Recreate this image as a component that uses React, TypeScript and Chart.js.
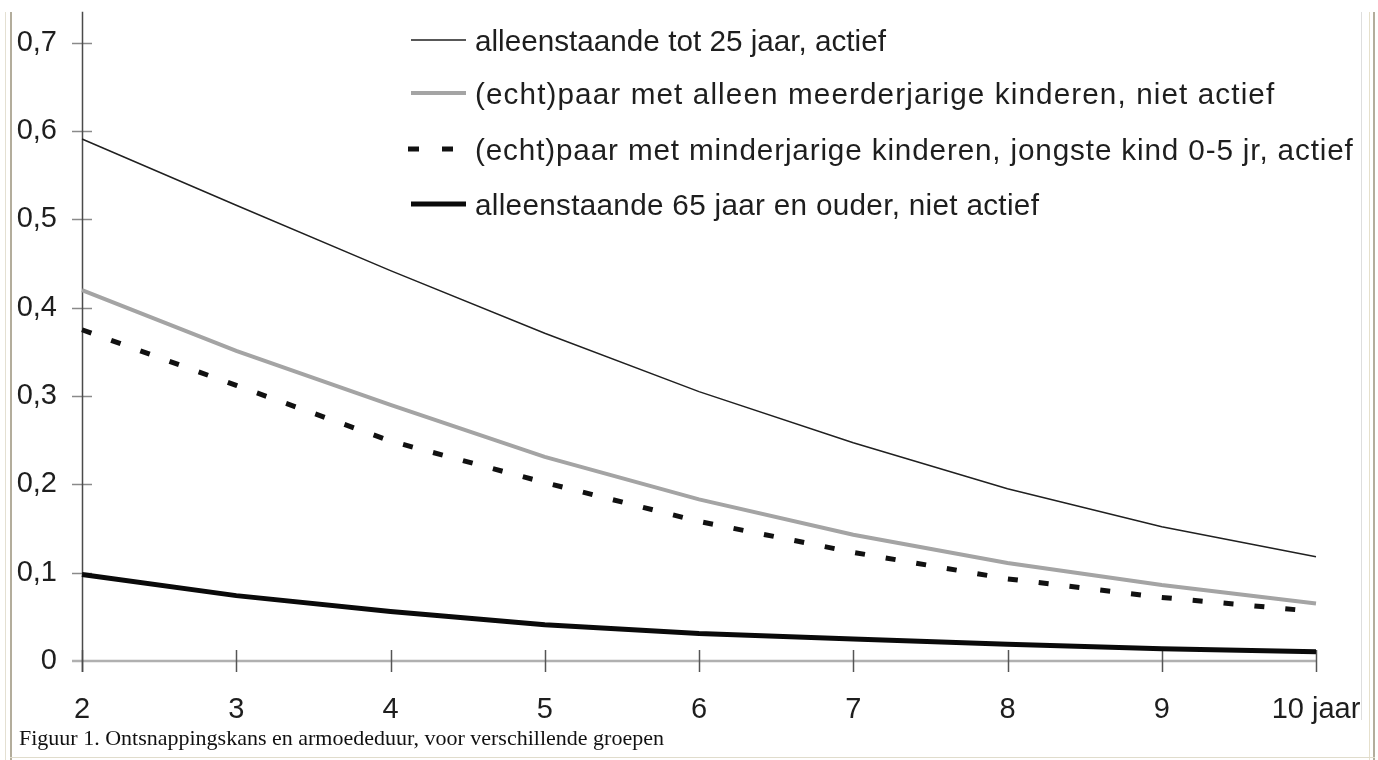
import React, { useEffect, useRef } from "react";
import { Chart, registerables } from "chart.js";

Chart.register(...registerables);

const years = ["2", "3", "4", "5", "6", "7", "8", "9", "10 jaar"];
const seriesNames = [
  "alleenstaande tot 25 jaar, actief",
  "(echt)paar met alleen meerderjarige kinderen, niet actief",
  "(echt)paar met minderjarige kinderen, jongste kind 0-5 jr, actief",
  "alleenstaande 65 jaar en ouder, niet actief",
];
const alleenstaandeTot25 = [0.591, 0.516, 0.442, 0.371, 0.305, 0.247, 0.195, 0.152, 0.118];
const paarMeerderjarig = [0.42, 0.351, 0.29, 0.231, 0.183, 0.143, 0.111, 0.086, 0.065];
const paarMinderjarig = [0.375, 0.312, 0.249, 0.202, 0.158, 0.123, 0.093, 0.072, 0.056];
const alleenstaande65 = [0.098, 0.074, 0.056, 0.041, 0.031, 0.025, 0.019, 0.014, 0.0105];
const yMax = 0.7;
const yStep = 0.1;
const caption = "Figuur 1. Ontsnappingskans en armoededuur, voor verschillende groepen";

const FONT = "'Liberation Sans', Arial, sans-serif";
const TEXT = "#1e1e1e";

const axesPlugin = {
  id: "customAxes",
  beforeDatasetsDraw(chart: any) {
    const { ctx, chartArea, scales } = chart;
    const x = scales.x;
    const y = scales.y;
    const x0 = x.getPixelForValue(0);
    const y0 = y.getPixelForValue(0);
    ctx.save();
    ctx.strokeStyle = "#b0b0b0";
    ctx.lineWidth = 2.5;
    ctx.beginPath();
    ctx.moveTo(x0 - 10, y0);
    ctx.lineTo(chartArea.right, y0);
    ctx.stroke();
    ctx.strokeStyle = "#8a8a8a";
    ctx.lineWidth = 1.5;
    y.ticks.forEach((t: any) => {
      const py = Math.round(y.getPixelForValue(t.value)) + 0.5;
      if (t.value === 0) return;
      ctx.beginPath();
      ctx.moveTo(x0 - 10, py);
      ctx.lineTo(x0 + 10, py);
      ctx.stroke();
    });
    ctx.strokeStyle = "#555";
    ctx.lineWidth = 1.5;
    years.forEach((_, i) => {
      const px = Math.round(x.getPixelForValue(i)) + 0.5;
      ctx.beginPath();
      ctx.moveTo(px, y0 - 11);
      ctx.lineTo(px, y0 + 11);
      ctx.stroke();
    });
    ctx.strokeStyle = "#4a4a4a";
    ctx.lineWidth = 1.5;
    ctx.beginPath();
    ctx.moveTo(Math.round(x0) + 0.5, chartArea.top - 31);
    ctx.lineTo(Math.round(x0) + 0.5, y0 + 11);
    ctx.stroke();
    ctx.restore();
  },
  afterDraw(chart: any) {
    const { ctx } = chart;
    const ds = chart.data.datasets;
    const rows = [40, 93, 149, 204];
    const spacing = [0, 1.1, 0.85, 0.3];
    ctx.save();
    ds.forEach((d: any, i: number) => {
      const ly = rows[i];
      ctx.strokeStyle = d.borderColor;
      ctx.lineWidth = d.borderWidth;
      ctx.beginPath();
      if (d.borderDash) {
        ctx.setLineDash([11, 23]);
        ctx.moveTo(408, ly);
        ctx.lineTo(453, ly);
      } else {
        ctx.moveTo(411, ly);
        ctx.lineTo(466, ly);
      }
      ctx.stroke();
      ctx.setLineDash([]);
      ctx.fillStyle = TEXT;
      ctx.font = `29.7px ${FONT}`;
      (ctx as any).letterSpacing = `${spacing[i]}px`;
      ctx.textBaseline = "alphabetic";
      ctx.textAlign = "left";
      ctx.fillText(d.label, 475, ly + 11);
      (ctx as any).letterSpacing = "0px";
    });
    ctx.restore();
  },
};

export default function App() {
  const ref = useRef<HTMLCanvasElement>(null);
  useEffect(() => {
    if (!ref.current) return;
    const chart = new Chart(ref.current, {
      type: "line",
      data: {
        labels: years,
        datasets: [
          {
            label: seriesNames[0],
            data: alleenstaandeTot25,
            borderColor: "#202020",
            borderWidth: 1.5,
            pointRadius: 0,
            tension: 0,
          },
          {
            label: seriesNames[1],
            data: paarMeerderjarig,
            borderColor: "#a4a4a4",
            borderWidth: 4,
            pointRadius: 0,
            tension: 0,
          },
          {
            label: seriesNames[2],
            data: paarMinderjarig,
            borderColor: "#111",
            borderWidth: 5,
            borderDash: [10, 21],
            pointRadius: 0,
            tension: 0,
          },
          {
            label: seriesNames[3],
            data: alleenstaande65,
            borderColor: "#0a0a0a",
            borderWidth: 5,
            pointRadius: 0,
            tension: 0,
          },
        ] as any,
      },
      options: {
        animation: false,
        responsive: false,
        devicePixelRatio: 1,
        layout: { padding: { top: 42.7, right: 62, left: 0, bottom: 0 } },
        plugins: { legend: { display: false }, tooltip: { enabled: false } },
        scales: {
          x: {
            type: "category",
            offset: false,
            grid: { display: false },
            border: { display: false },
            ticks: {
              color: TEXT,
              font: { family: FONT, size: 29 },
              padding: 24,
              autoSkip: false,
              maxRotation: 0,
            },
            afterFit: (s: any) => {
              s.height = 99;
              s.paddingLeft = 0;
              s.paddingRight = 0;
            },
          },
          y: {
            min: 0,
            max: yMax,
            grid: { display: false },
            border: { display: false },
            ticks: {
              stepSize: yStep,
              color: TEXT,
              font: { family: FONT, size: 29 },
              padding: 17,
              callback: (v: any) => (v === 0 ? "0" : Number(v).toFixed(1).replace(".", ",")),
            },
            afterFit: (s: any) => {
              s.width = 82;
              s.paddingTop = 0;
              s.paddingBottom = 0;
            },
          },
        },
      } as any,
      plugins: [axesPlugin],
    });
    return () => chart.destroy();
  }, []);

  const vline = (left: number, width: number, color: string, bottom: number) => (
    <div
      style={{
        position: "absolute",
        left,
        top: 12,
        width,
        height: bottom - 12,
        background: color,
      }}
    />
  );

  return (
    <div style={{ position: "absolute", left: 0, top: 0, width: 1378, height: 760, background: "#fff", overflow: "hidden" }}>
      <canvas ref={ref} width={1378} height={760} style={{ position: "absolute", left: 0, top: 0, width: 1378, height: 760 }} />
      {vline(5, 1, "#e4e0d2", 760)}
      {vline(10, 2, "#b3ad9c", 760)}
      {vline(1361, 1, "#dedede", 720)}
      {vline(1369, 1, "#e6e0cc", 760)}
      {vline(1373, 2, "#b3ad9c", 760)}
      <div style={{ position: "absolute", left: 10, top: 757, width: 1365, height: 1, background: "#e0dccc" }} />
      <div
        style={{
          position: "absolute",
          left: 19,
          top: 725,
          fontFamily: "'Liberation Serif', 'Times New Roman', serif",
          fontSize: 22,
          lineHeight: "26px",
          color: "#111",
          whiteSpace: "nowrap",
        }}
      >
        {caption}
      </div>
    </div>
  );
}
